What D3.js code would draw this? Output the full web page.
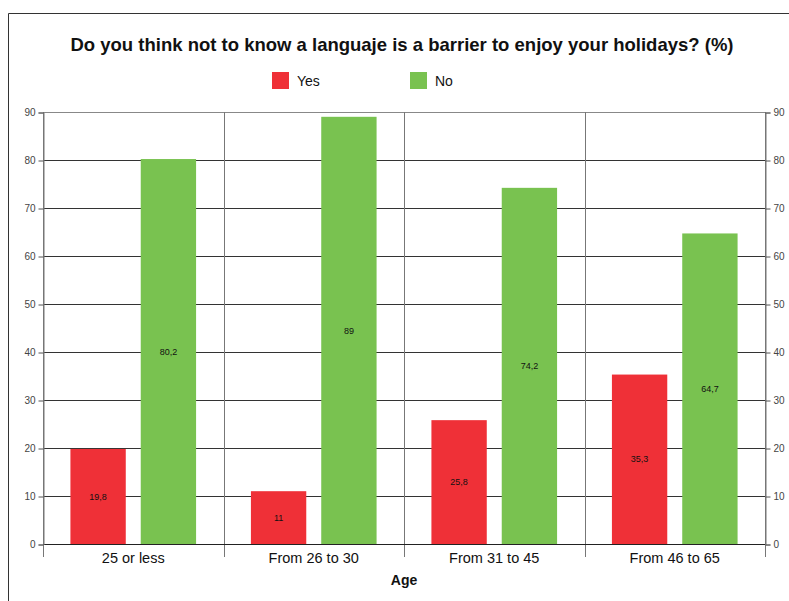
<!DOCTYPE html>
<html>
<head>
<meta charset="utf-8">
<script src="https://cdn.jsdelivr.net/npm/d3@7"></script>
<style>
  body { margin: 0; background: #fff; }
  svg { display: block; font-family: "Liberation Sans", Arial, sans-serif; }
</style>
</head>
<body>
<svg id="chart" width="789" height="601"></svg>
<script>
// data
const ageGroups = ["25 or less", "From 26 to 30", "From 31 to 45", "From 46 to 65"];
const seriesNames = ["Yes", "No"];
const yesValues = [19.8, 11, 25.8, 35.3];
const noValues = [80.2, 89, 74.2, 64.7];
const yTicks = [0, 10, 20, 30, 40, 50, 60, 70, 80, 90];

const colors = { "Yes": "#ef3037", "No": "#79c250" };

const MARGIN = { LEFT: 43, RIGHT: 24, TOP: 112, BOTTOM: 57 };
const width = 789, height = 601;

let svg = d3.select("#chart");

// outer frame (only left and top edges show)
svg.append("path")
  .attr("d", "M8.5,601 V13.5 H789")
  .attr("fill", "none")
  .attr("stroke", "#333")
  .attr("stroke-width", 1);

let rows = ageGroups.map((g, i) => ({ group: g, Yes: yesValues[i], No: noValues[i] }));

let xScale = d3.scaleBand()
  .domain(ageGroups)
  .range([MARGIN.LEFT, width - MARGIN.RIGHT]);

let xInner = d3.scaleBand()
  .domain(seriesNames)
  .range([0, xScale.bandwidth()])
  .paddingInner(0.213)
  .paddingOuter(0.39);

let yScale = d3.scaleLinear()
  .domain([0, 90])
  .range([height - MARGIN.BOTTOM, MARGIN.TOP]);

let x0 = MARGIN.LEFT, x1 = width - MARGIN.RIGHT;
let y0 = yScale(0);

// horizontal gridlines
svg.append("g")
  .selectAll("line")
  .data(yTicks)
  .enter()
  .append("line")
  .attr("x1", x0)
  .attr("x2", x1)
  .attr("y1", d => Math.round(yScale(d)) + 0.5)
  .attr("y2", d => Math.round(yScale(d)) + 0.5)
  .attr("stroke", d => d === 90 ? "#888" : "#333");

// category separators, running below the base line
let seps = ageGroups.map(g => xScale(g)).concat([x1]);
svg.append("g")
  .selectAll("line")
  .data(seps)
  .enter()
  .append("line")
  .attr("x1", d => Math.round(d) + 0.5)
  .attr("x2", d => Math.round(d) + 0.5)
  .attr("y1", MARGIN.TOP)
  .attr("y2", y0 + 13)
  .attr("stroke", "#777");

// bars
let groups = svg.append("g")
  .selectAll("g")
  .data(rows)
  .enter()
  .append("g")
  .attr("transform", d => "translate(" + xScale(d.group) + ",0)");

groups.selectAll("rect")
  .data(d => seriesNames.map(k => ({ key: k, value: d[k] })))
  .enter()
  .append("rect")
  .attr("x", d => xInner(d.key))
  .attr("width", xInner.bandwidth())
  .attr("y", d => yScale(d.value))
  .attr("height", d => y0 - yScale(d.value))
  .attr("fill", d => colors[d.key]);

// value labels in the middle of each bar
groups.selectAll("text")
  .data(d => seriesNames.map(k => ({ key: k, value: d[k] })))
  .enter()
  .append("text")
  .attr("x", d => xInner(d.key) + xInner.bandwidth() / 2)
  .attr("y", d => yScale(d.value / 2))
  .attr("dy", "0.35em")
  .attr("text-anchor", "middle")
  .attr("font-size", "9px")
  .attr("fill", "#111")
  .text(d => String(d.value).replace(".", ","));

// base line
svg.append("line")
  .attr("x1", x0).attr("x2", x1)
  .attr("y1", Math.round(y0) + 0.5).attr("y2", Math.round(y0) + 0.5)
  .attr("stroke", "#222");

// left and right axes
let leftAxis = d3.axisLeft(yScale).tickValues(yTicks).tickSize(5).tickPadding(3);
svg.append("g")
  .attr("transform", "translate(" + (x0 + 0.5) + ",0.5)")
  .call(leftAxis);

let rightAxis = d3.axisRight(yScale).tickValues(yTicks).tickSize(5).tickPadding(3);
svg.append("g")
  .attr("transform", "translate(" + (x1 + 0.5) + ",0.5)")
  .call(rightAxis);

svg.selectAll(".domain").attr("stroke", "#777");
svg.selectAll(".tick line").attr("stroke", "#555");
svg.selectAll(".tick text")
  .attr("font-size", "10px")
  .attr("font-family", "Liberation Sans, Arial, sans-serif")
  .attr("fill", "#444");

// category labels
svg.append("g")
  .selectAll("text")
  .data(ageGroups)
  .enter()
  .append("text")
  .attr("x", d => xScale(d) + xScale.bandwidth() / 2)
  .attr("y", y0 + 19)
  .attr("text-anchor", "middle")
  .attr("font-size", "14.5px")
  .attr("fill", "#111")
  .text(d => d);

// axis title
svg.append("text")
  .attr("x", (x0 + x1) / 2)
  .attr("y", 585)
  .attr("text-anchor", "middle")
  .attr("font-size", "14px")
  .attr("font-weight", "bold")
  .attr("fill", "#111")
  .text("Age");

// chart title
svg.append("text")
  .attr("x", 402)
  .attr("y", 51)
  .attr("text-anchor", "middle")
  .attr("font-size", "18.5px")
  .attr("font-weight", "bold")
  .attr("fill", "#111")
  .text("Do you think not to know a languaje is a barrier to enjoy your holidays? (%)");

// handmade legend
let legendX = [272, 410];
seriesNames.forEach((name, i) => {
  svg.append("rect")
    .attr("x", legendX[i]).attr("y", 72)
    .attr("width", 17).attr("height", 17)
    .attr("fill", colors[name]);
  svg.append("text")
    .attr("x", legendX[i] + 25).attr("y", 81)
    .attr("dy", "0.35em")
    .attr("font-size", "14px")
    .attr("fill", "#111")
    .text(name);
});
</script>
</body>
</html>
